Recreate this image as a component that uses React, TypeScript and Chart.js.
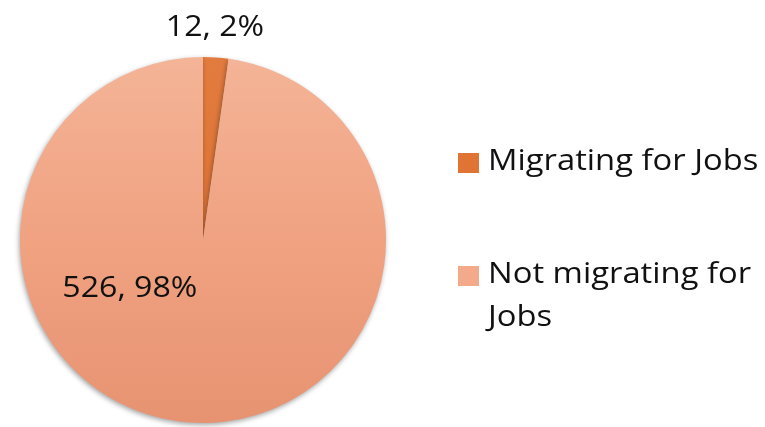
import React, { useEffect, useRef } from "react";
import { Chart, registerables } from "chart.js";

Chart.register(...registerables);

const categories = ["Migrating for Jobs", "Not migrating for Jobs"];
const counts = [12, 526];
const percents = ["2%", "98%"];
const legendLines = [["Migrating for Jobs"], ["Not migrating for", "Jobs"]];

const FONT = "'Open Sans', sans-serif";

const gradFor = (chart: any, index: number) => {
  const area = chart.chartArea;
  if (!area) return index === 0 ? "#E0793C" : "#F0A281";
  const g = chart.ctx.createLinearGradient(0, area.top, 0, area.bottom);
  if (index === 0) {
    g.addColorStop(0, "#E27B3E");
    g.addColorStop(1, "#D86C2E");
  } else {
    g.addColorStop(0, "#F4B497");
    g.addColorStop(0.5, "#F0A281");
    g.addColorStop(1, "#E79372");
  }
  return g;
};

const drawText = (ctx: any, text: string, x: number, y: number, sx: number) => {
  ctx.save();
  ctx.translate(x, y);
  ctx.scale(sx, 1);
  ctx.fillText(text, 0, 0);
  ctx.restore();
};

const labelsPlugin = {
  id: "sliceLabels",
  afterDatasetsDraw(chart: any) {
    const ctx = chart.ctx;
    const meta = chart.getDatasetMeta(0);
    ctx.save();
    ctx.fillStyle = "#111";
    ctx.font = `30px ${FONT}`;
    ctx.textAlign = "center";
    ctx.textBaseline = "middle";
    meta.data.forEach((arc: any, i: number) => {
      const text = `${counts[i]}, ${percents[i]}`;
      const R = arc.outerRadius;
      let x: number, y: number;
      if (i === 0) {
        x = arc.x + 0.065 * R;
        y = arc.y - R - 30;
      } else {
        x = arc.x - 0.4 * R;
        y = arc.y + 0.265 * R;
      }
      drawText(ctx, text, x, y, 1.07);
    });
    ctx.restore();
  },
};

const legendPlugin = {
  id: "customLegend",
  afterDraw(chart: any) {
    const ctx = chart.ctx;
    ctx.save();
    ctx.font = `29px ${FONT}`;
    ctx.textBaseline = "middle";
    ctx.textAlign = "left";
    const starts = [162, 275];
    const lineH = 43;
    categories.forEach((_, i) => {
      const y0 = starts[i];
      ctx.fillStyle = i === 0 ? "#DF7435" : "#F2AA8A";
      ctx.fillRect(458, y0 - 9, 21, 20);
      ctx.fillStyle = "#111";
      legendLines[i].forEach((line, j) => {
        drawText(ctx, line, 488, y0 + j * lineH, 1.13);
      });
    });
    ctx.restore();
  },
};

const shadowPlugin = {
  id: "pieShadow",
  beforeDatasetsDraw(chart: any) {
    const ctx = chart.ctx;
    ctx.save();
    ctx.shadowColor = "rgba(0,0,0,0.35)";
    ctx.shadowBlur = 5;
    ctx.shadowOffsetX = -1;
    ctx.shadowOffsetY = 2;
  },
  afterDatasetsDraw(chart: any) {
    chart.ctx.restore();
  },
};

export default function App() {
  const ref = useRef<HTMLCanvasElement>(null);
  useEffect(() => {
    document.body.style.margin = "0";
    document.body.style.background = "#fff";
    const chart = new Chart(ref.current!, {
      type: "pie",
      data: {
        labels: categories,
        datasets: [
          {
            data: counts,
            backgroundColor: (c: any) => gradFor(c.chart, c.dataIndex),
            borderWidth: 0,
          },
        ],
      },
      options: {
        animation: false,
        responsive: false,
        layout: { padding: { top: 57, bottom: 4, left: 20, right: 379 } },
        plugins: {
          legend: { display: false },
          tooltip: { enabled: false },
        },
      },
      plugins: [shadowPlugin, labelsPlugin, legendPlugin],
    });
    return () => chart.destroy();
  }, []);
  return <canvas ref={ref} width={765} height={427} style={{ display: "block" }} />;
}
